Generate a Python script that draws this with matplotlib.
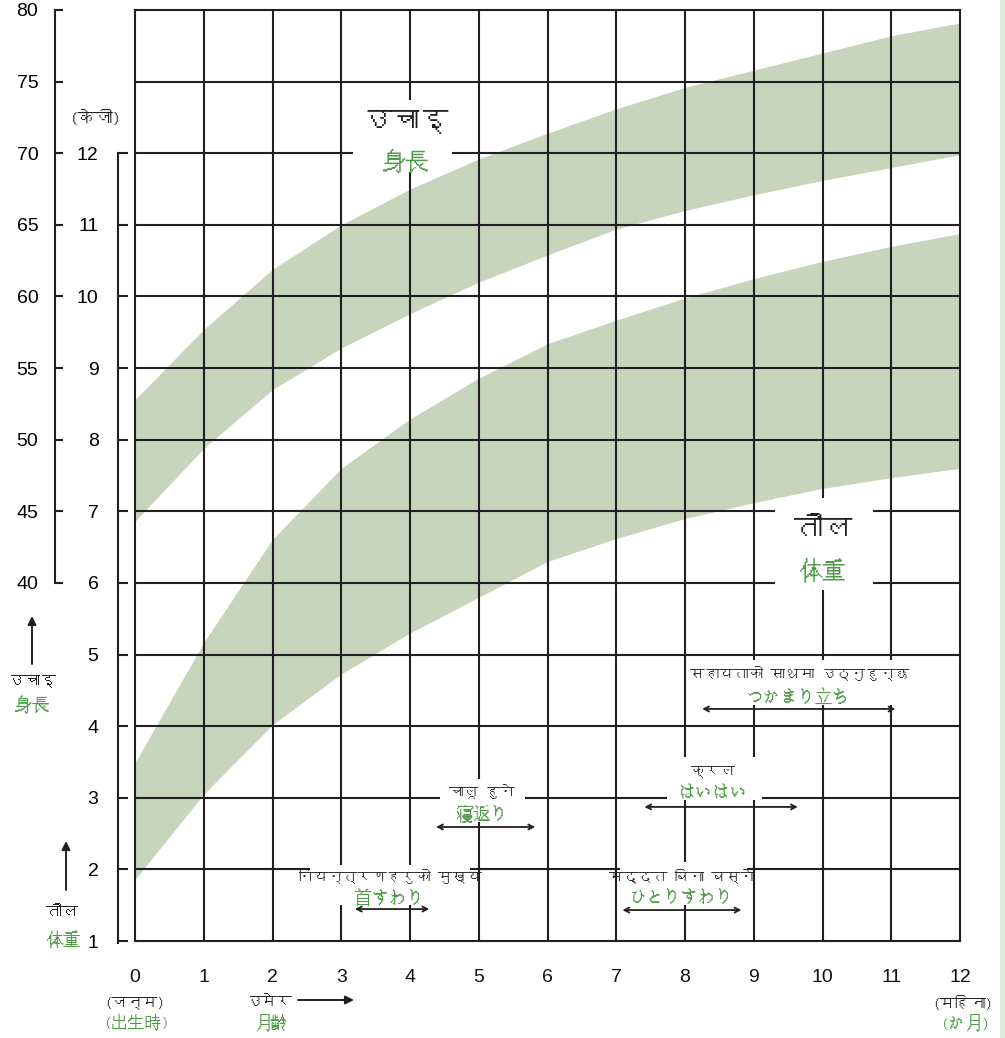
import numpy as np
import matplotlib
matplotlib.use('Agg')
import matplotlib.pyplot as plt
from matplotlib.patches import Rectangle
from matplotlib import font_manager
from matplotlib.ft2font import FT2Font

# growth bands (month 0..12)
months = np.arange(13)
weight_low = [1.86, 3.05, 4.02, 4.73, 5.30, 5.80, 6.30, 6.62, 6.90, 7.12, 7.32, 7.47, 7.60]
weight_high = [3.49, 5.17, 6.61, 7.60, 8.29, 8.86, 9.34, 9.67, 9.98, 10.25, 10.49, 10.70, 10.88]
height_low = [44.3, 49.4, 53.5, 56.4, 58.8, 61.0, 62.9, 64.7, 66.0, 67.1, 68.1, 69.0, 69.9]
height_high = [52.8, 57.7, 61.9, 65.0, 67.5, 69.6, 71.4, 73.1, 74.6, 75.8, 77.0, 78.2, 79.1]

kg_ticks = list(range(1, 13))
cm_ticks = list(range(40, 81, 5))

# milestones: nepali / japanese label and age range (months)
ms_ne = ['नियन्त्रणहरुको मुख्य', 'चालू हुने', 'क्रल', 'मद्दत बिना बस्ने', 'सहायताको साथमा उठ्नुहुन्छ']
ms_ja = ['首すわり', '寝返り', 'はいはい', 'ひとりすわり', 'つかまり立ち']
ms_start = [3.2, 4.38, 7.41, 7.09, 8.25]
ms_end = [4.28, 5.82, 9.64, 8.82, 11.06]

# find a font with devanagari, if any is installed
deva = None
for f in font_manager.fontManager.ttflist:
    try:
        if 0x0909 in FT2Font(f.fname).get_charmap():
            deva = f.name
            break
    except Exception:
        pass
fams = ([deva] if deva else []) + ['Noto Sans CJK JP', 'Liberation Sans', 'DejaVu Sans']
plt.rcParams['font.family'] = fams

NUMFONT = font_manager.FontProperties(family='Liberation Sans', stretch='normal', size=14)

GREEN = '#4e9a48'
BAND = '#c7d5bd'
INK = '#231f20'
LW = 1.5

W, H = 1005, 1038
fig = plt.figure(figsize=(W / 100, H / 100), dpi=100)
bottom = 1 - 941 / H
height = (941 - 10) / H

ax = fig.add_axes([135 / W, bottom, (960 - 135) / W, height])
ax.set_xlim(0, 12)
ax.set_ylim(1, 14)
ax.fill_between(months, weight_low, weight_high, color=BAND, lw=0)
for s in ax.spines.values():
    s.set_visible(False)
ax.set_yticks([])
ax.set_xticks(range(13))
ax.set_xticklabels([str(m) for m in range(13)], fontproperties=NUMFONT)
ax.tick_params(axis='x', length=0, pad=20, colors='#111111')

# height axis on top (cm), same frame
axh = ax.twinx()
axh.set_ylim(15, 80)
axh.fill_between(months, height_low, height_high, color=BAND, lw=0)
axh.set_yticks([])
for m in range(1, 12):
    axh.axvline(m, color=INK, lw=LW, zorder=2)
for c in range(20, 80, 5):
    axh.axhline(c, color=INK, lw=LW, zorder=2)
for s in axh.spines.values():
    s.set_color(INK)
    s.set_linewidth(LW)

# outer cm scale
axc = fig.add_axes([55 / W, bottom, 10 / W, height])
axc.set_ylim(15, 80)
axc.patch.set_visible(False)
for k in ['top', 'right', 'bottom']:
    axc.spines[k].set_visible(False)
axc.spines['left'].set_bounds(40, 80)
axc.spines['left'].set_linewidth(LW)
axc.spines['left'].set_color(INK)
axc.set_xticks([])
axc.set_yticks(cm_ticks)
axc.set_yticklabels([str(c) for c in cm_ticks], fontproperties=NUMFONT)
axc.tick_params(axis='y', direction='in', length=6, width=LW, color=INK, pad=12)

# inner kg scale
axk = fig.add_axes([118 / W, bottom, 10 / W, height])
axk.set_ylim(1, 14)
axk.patch.set_visible(False)
for k in ['top', 'right', 'bottom']:
    axk.spines[k].set_visible(False)
axk.spines['left'].set_bounds(0.97, 12)
axk.spines['left'].set_linewidth(LW)
axk.spines['left'].set_color(INK)
axk.set_xticks([])
axk.set_yticks(kg_ticks)
axk.set_yticklabels([str(k) for k in kg_ticks], fontproperties=NUMFONT)
axk.tick_params(axis='y', direction='in', length=7, width=LW, color=INK, pad=14)


def white_box(x0, x1, y0, y1):
    axh.add_patch(Rectangle((x0, y0), x1 - x0, y1 - y0, facecolor='white',
                            edgecolor='none', zorder=3))


# big labels
white_box(3.17, 4.61, 68.7, 73.7)
axh.text(3.93, 72.2, 'उचाइ', fontsize=21, fontweight='bold', ha='center', va='center', color=INK, zorder=4)
axh.text(3.93, 69.5, '身長', fontsize=17, ha='center', va='center', color=GREEN, zorder=4)
white_box(9.31, 10.73, 39.5, 45.9)
axh.text(10.01, 43.7, 'तौल', fontsize=21, fontweight='bold', ha='center', va='center', color=INK, zorder=4)
axh.text(10.01, 40.9, '体重', fontsize=17, ha='center', va='center', color=GREEN, zorder=4)

# milestone labels: (text x, nepali y, jp y, arrow y, box)
layout = [
    (3.71, 19.6, 18.07, 17.23, (2.55, 4.87, 17.5, 20.3)),
    (5.05, 25.4, 23.87, 22.96, (4.44, 5.67, 23.3, 26.3)),
    (8.41, 26.87, 25.33, 24.36, (7.74, 9.12, 24.85, 27.85)),
    (7.96, 19.6, 18.07, 17.16, (7.05, 8.90, 17.5, 20.5)),
    (9.66, 33.71, 32.1, 31.2, (8.15, 11.16, 31.5, 34.6)),
]
for ne, ja, a, b, (tx, yn, yj, ya, bx) in zip(ms_ne, ms_ja, ms_start, ms_end, layout):
    white_box(*bx)
    axh.text(tx, yn, ne, fontsize=10.5, ha='center', va='center', color=INK, zorder=4)
    axh.text(tx, yj, ja, fontsize=12.5, ha='center', va='center', color=GREEN, zorder=4)
    axh.annotate('', xy=(b, ya), xytext=(a, ya),
                 arrowprops=dict(arrowstyle='<->,head_length=0.35,head_width=0.18',
                                 color=INK, lw=1.3, shrinkA=0, shrinkB=0), zorder=4)

# texts outside the grid (figure pixels, y from top)
def ftext(x, y, s, color=INK, size=11.5, ha='center'):
    fig.text(x / W, 1 - y / H, s, color=color, fontsize=size, ha=ha, va='center')


def farrow(x0, y0, x1, y1):
    fig.add_artist(matplotlib.patches.FancyArrowPatch(
        (x0 / W, 1 - y0 / H), (x1 / W, 1 - y1 / H), transform=fig.transFigure,
        arrowstyle='-|>,head_length=5,head_width=2.5', color=INK, lw=1.4,
        shrinkA=0, shrinkB=0))


ftext(96, 118, '(केजी)', size=12.5)
farrow(32, 664, 32, 616)
ftext(32, 681, 'उचाइ', size=11.5)
ftext(32, 705, '身長', GREEN, size=12.5)
farrow(66, 890, 66, 841)
ftext(62, 912, 'तौल', size=11.5)
ftext(63, 940, '体重', GREEN, size=12.5)

ftext(135, 1003, '(जन्म)', size=11)
ftext(137, 1022, '(出生時)', GREEN, size=12)
ftext(292, 1003, 'उमेर', size=11, ha='right')
ftext(272, 1022, '月齢', GREEN, size=12)
farrow(298, 1000, 354, 1000)
ftext(963, 1003, '(महिना)', size=11)
ftext(966, 1022, '(か月)', GREEN, size=12)

fig.add_artist(Rectangle((1000 / W, 0), 5 / W, 1, transform=fig.transFigure,
                         facecolor='#e1e9da', edgecolor='none'))

fig.savefig('out.png', dpi=100)
